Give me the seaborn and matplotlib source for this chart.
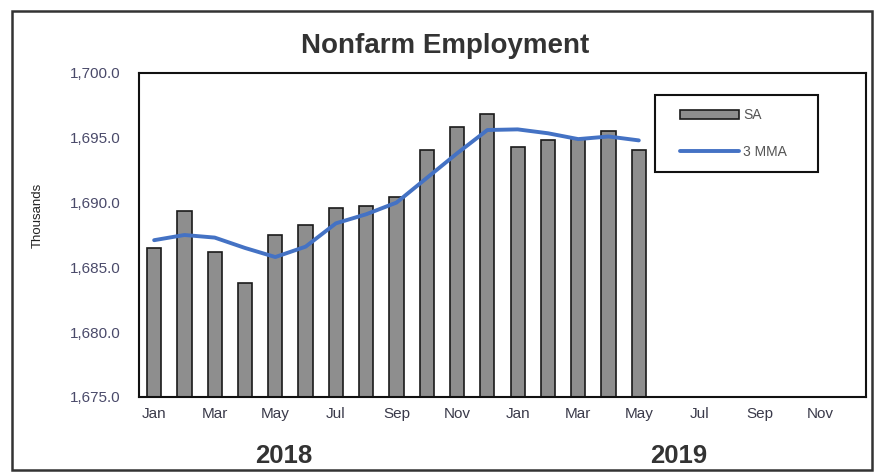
import matplotlib
matplotlib.use("Agg")
import matplotlib.pyplot as plt
import seaborn as sns
import pandas as pd
import numpy as np
from matplotlib.patches import Rectangle

months = ["Jan", "Feb", "Mar", "Apr", "May", "Jun", "Jul", "Aug", "Sep", "Oct", "Nov", "Dec"]
years = ["2018", "2019"]
periods = [f"{m} {y}" for y in years for m in months]

sa_values = [1686.5, 1689.35, 1686.2, 1683.8, 1687.5, 1688.3, 1689.6, 1689.7, 1690.4,
             1694.05, 1695.8, 1696.8, 1694.3, 1694.8, 1694.9, 1695.5, 1694.05]
mma_values = [1687.1, 1687.5, 1687.3, 1686.5, 1685.8, 1686.6, 1688.4, 1689.1, 1690.0,
              1691.9, 1693.8, 1695.6, 1695.65, 1695.35, 1694.9, 1695.1, 1694.8]
y_ticks = [1675.0, 1680.0, 1685.0, 1690.0, 1695.0, 1700.0]
x_tick_labels = ["Jan", "Mar", "May", "Jul", "Sep", "Nov"] * 2

df = pd.DataFrame({"period": periods[:len(sa_values)], "SA": sa_values})
df_line = pd.DataFrame({"pos": np.arange(len(mma_values)), "3 MMA": mma_values})

sns.set_theme(style="white")
plt.rcParams["font.family"] = ["Liberation Sans", "DejaVu Sans"]

W, H = 875, 474
fig = plt.figure(figsize=(W / 100, H / 100), dpi=100)
L, R, T, B = 139, 866, 73, 397
ax = fig.add_axes([L / W, 1 - B / H, (R - L) / W, (B - T) / H])

def ax_frac(px, py):
    return ((px - L) / (R - L), (B - py) / (B - T))

bar_color = "#8e8e8e"
line_color = "#4472c4"

sns.barplot(data=df, x="period", y="SA", order=periods, color=bar_color, width=0.47,
            edgecolor="#1a1a1a", linewidth=1.2, ax=ax, label="SA", saturation=1)
sns.lineplot(data=df_line, x="pos", y="3 MMA", color=line_color, linewidth=2.8, ax=ax,
             label="3 MMA", solid_joinstyle="round", solid_capstyle="round")

ax.set_ylim(y_ticks[0], y_ticks[-1])
ax.set_xlim(-0.5, len(periods) - 0.5)
ax.set_yticks(y_ticks)
ax.set_yticklabels([f"{v:,.1f}" for v in y_ticks], color="#4a4a6a", fontsize=11)
ax.set_xticks(np.arange(0, len(periods), 2))
ax.set_xticklabels(x_tick_labels, fontsize=11, color="#3a3a4a")
ax.set_xticks(np.arange(-0.5, len(periods), 2), minor=True)
ax.tick_params(axis="x", which="major", length=0, pad=7)
ax.tick_params(axis="x", which="minor", length=7, width=1.2, direction="inout", color="#111111")
ax.tick_params(axis="y", which="major", length=7, width=1.2, direction="inout", color="#111111", pad=10)
ax.set_xlabel("")
ax.set_ylabel("")
for s in ax.spines.values():
    s.set_color("#111111")
    s.set_linewidth(1.5)

# legend: SA first, then 3 MMA
handles, labels = ax.get_legend_handles_labels()
order = [labels.index("SA"), labels.index("3 MMA")]
leg = ax.legend([handles[i] for i in order], [labels[i] for i in order],
                loc="upper left", bbox_to_anchor=ax_frac(680, 108),
                frameon=False, fontsize=10, handlelength=4.25, handleheight=0.6,
                borderpad=0, labelspacing=1.66, handletextpad=0.3, borderaxespad=0)
for t in leg.get_texts():
    t.set_color("#555555")
x0, y0 = ax_frac(655, 172)
x1, y1 = ax_frac(818, 95)
ax.add_patch(Rectangle((x0, y0), x1 - x0, y1 - y0, transform=ax.transAxes, fill=False,
                       edgecolor="#111111", linewidth=1.5, clip_on=False, zorder=5))

fig.text(1 - 0 + (38 - W) / W, 1 - 215 / H, "Thousands", rotation=90, ha="center", va="center",
         fontsize=9.5, color="#222222")
fig.text(445 / W, 1 - 53 / H, "Nonfarm Employment", ha="center", va="baseline",
         fontsize=20, fontweight="bold", color="#333333")
fig.text(283.5 / W, 1 - 463 / H, "2018", ha="center", va="baseline",
         fontsize=18.5, fontweight="bold", color="#333333")
fig.text(679 / W, 1 - 463 / H, "2019", ha="center", va="baseline",
         fontsize=18.5, fontweight="bold", color="#333333")

fig.patches.append(Rectangle((12 / W, 1 - 470 / H), (872 - 12) / W, (470 - 11) / H,
                             transform=fig.transFigure, fill=False, edgecolor="#333333",
                             linewidth=1.8))

fig.savefig("out.png", dpi=100)
